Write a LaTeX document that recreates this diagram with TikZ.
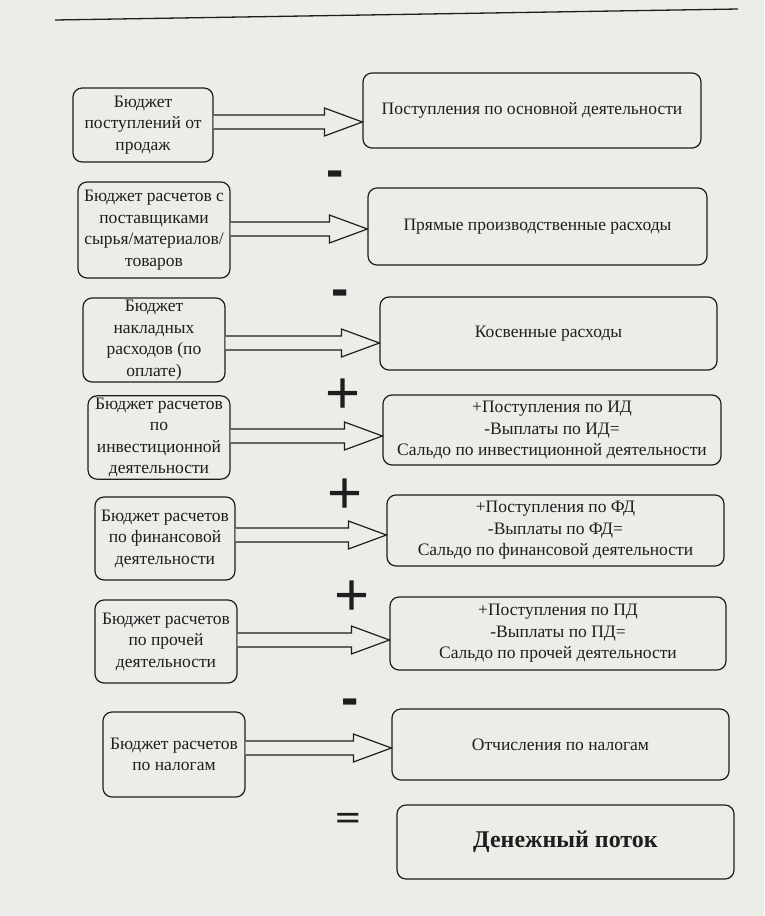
\documentclass[tikz,border=0pt]{standalone}
\usepackage{fontspec}
\setmainfont{Liberation Serif}
\newfontfamily\opfont{Liberation Sans}
\usetikzlibrary{calc}
\definecolor{paper}{RGB}{236,236,233}
\definecolor{ink}{RGB}{30,30,30}
\newcommand\blockarr[3]{%
  \draw[barrow] let \p1=(#1.east), \p2=(#2.west), \p3=(0,#3) in
    (\x1,\y3+7pt) -- (\x2-38pt,\y3+7pt) -- (\x2-38pt,\y3+14pt) -- (\x2,\y3)
    -- (\x2-38pt,\y3-14pt) -- (\x2-38pt,\y3-7pt) -- (\x1,\y3-7pt);}
\begin{document}
\begin{tikzpicture}[x=1pt,y=-1pt,
  box/.style={draw=ink, line width=1.2pt, rounded corners=9pt, align=center,
    inner sep=2pt, text=ink, font=\fontsize{17.5}{21.5}\selectfont},
  bigtext/.style={font=\bfseries\fontsize{24}{28}\selectfont},
  barrow/.style={draw=ink, line width=1.2pt, fill=paper, line join=miter},
  op/.style={inner sep=0pt, text=ink, anchor=base, font=\opfont\fontsize{60}{60}\selectfont}]
\useasboundingbox (0,0) rectangle (764,916);
\fill[paper] (0,0) rectangle (764,916);
\draw[ink, line width=1.3pt] (55,20) -- (738,9);
% left boxes
\node[box, minimum width=140pt, minimum height=74pt] (L1) at (143,125) {Бюджет\\поступлений от\\продаж};
\node[box, minimum width=152pt, minimum height=96pt] (L2) at (154,230) {Бюджет расчетов с\\поставщиками\\сырья/материалов/\\товаров};
\node[box, minimum width=142pt, minimum height=84pt] (L3) at (154,340) {Бюджет\\накладных\\расходов (по\\оплате)};
\node[box, minimum width=142pt, minimum height=82pt] (L4) at (159,437.5) {Бюджет расчетов\\по\\инвестиционной\\деятельности};
\node[box, minimum width=140pt, minimum height=83pt] (L5) at (165,538.5) {Бюджет расчетов\\по финансовой\\деятельности};
\node[box, minimum width=142pt, minimum height=83pt] (L6) at (166,641.5) {Бюджет расчетов\\по прочей\\деятельности};
\node[box, minimum width=142pt, minimum height=85pt] (L7) at (174,754.5) {Бюджет расчетов\\по налогам};
% right boxes
\node[box, minimum width=338pt, minimum height=75pt] (R1) at (532,110.5) {Поступления по основной деятельности};
\node[box, minimum width=339pt, minimum height=77pt] (R2) at (537.5,226.5) {Прямые производственные расходы};
\node[box, minimum width=337pt, minimum height=73pt] (R3) at (548.5,333.5) {Косвенные расходы};
\node[box, minimum width=338pt, minimum height=70pt] (R4) at (552,430) {+Поступления по ИД\\-Выплаты по ИД=\\Сальдо по инвестиционной деятельности};
\node[box, minimum width=337pt, minimum height=71pt] (R5) at (555.5,530.5) {+Поступления по ФД\\-Выплаты по ФД=\\Сальдо по финансовой деятельности};
\node[box, minimum width=336pt, minimum height=73pt] (R6) at (558,633.5) {+Поступления по ПД\\-Выплаты по ПД=\\Сальдо по прочей деятельности};
\node[box, minimum width=337pt, minimum height=71pt] (R7) at (560.5,744.5) {Отчисления по налогам};
\node[box, bigtext, minimum width=337pt, minimum height=74pt] (R8) at (565.5,842) {Денежный поток};
% arrows
\blockarr{L1}{R1}{122}
\blockarr{L2}{R2}{229}
\blockarr{L3}{R3}{343}
\blockarr{L4}{R4}{436}
\blockarr{L5}{R5}{535}
\blockarr{L6}{R6}{640}
\blockarr{L7}{R7}{748}
% operators
\node[op, font=\opfont\bfseries\fontsize{52}{52}\selectfont] (m1) at (335,187) {-};
\node[op, font=\opfont\bfseries\fontsize{52}{52}\selectfont] (m2) at (340,306) {-};
\node[op] (p1) at (343,413) {+};
\node[op] (p2) at (345,513) {+};
\node[op] (p3) at (352,615) {+};
\node[op, font=\opfont\bfseries\fontsize{52}{52}\selectfont] (m3) at (350,715) {-};
\node[op, font=\opfont\bfseries\fontsize{42}{42}\selectfont] (eq) at (348,826) {\scalebox{1}[0.6]{=}};
\end{tikzpicture}
\end{document}
